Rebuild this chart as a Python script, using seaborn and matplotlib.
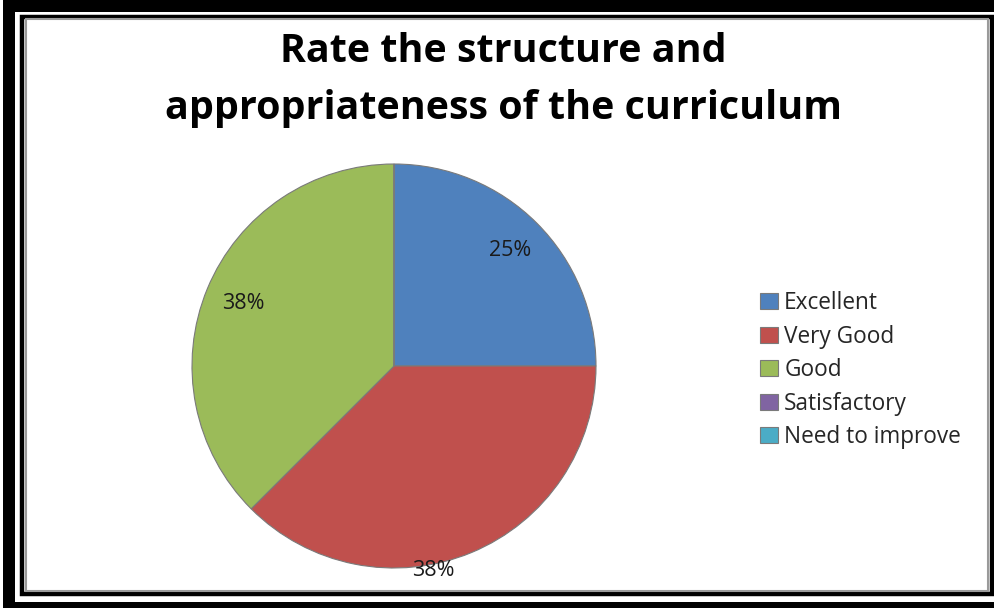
import matplotlib.pyplot as plt
import matplotlib.patches as mpatches
import seaborn as sns
import numpy as np

# data
categories = ['Excellent', 'Very Good', 'Good', 'Satisfactory', 'Need to improve']
shares = [25, 37.5, 37.5, 0, 0]
colors = ['#4F81BD', '#C0504D', '#9BBB59', '#8064A2', '#4BACC6']
title = 'Rate the structure and\nappropriateness of the curriculum'

sns.set_theme(style="white")
plt.rcParams['font.family'] = ['Open Sans', 'DejaVu Sans']

W, H = 994, 608
fig = plt.figure(figsize=(W / 100, H / 100), dpi=100)
fig.patch.set_facecolor('white')


def px(x0, y0, x1, y1):
    # pixel box (top-left origin) -> figure fraction rect
    return [x0 / W, 1 - y1 / H, (x1 - x0) / W, (y1 - y0) / H]


# double frame around the chart
for x0, y0, x1, y1 in [(3, 0, 15, 608), (3, 0, 994, 12), (3, 602, 994, 608)]:
    r = px(x0, y0, x1, y1)
    fig.patches.append(mpatches.Rectangle((r[0], r[1]), r[2], r[3], transform=fig.transFigure,
                                          facecolor='black', edgecolor='none'))
r = px(22, 16.5, 991.5, 594)
fig.patches.append(mpatches.Rectangle((r[0], r[1]), r[2], r[3], transform=fig.transFigure,
                                      facecolor='none', edgecolor='black', linewidth=3.2))
r = px(26, 19, 988, 591)
fig.patches.append(mpatches.Rectangle((r[0], r[1]), r[2], r[3], transform=fig.transFigure,
                                      facecolor='none', edgecolor='#9a9a9a', linewidth=1.5))

fig.text(503 / W, 1 - 80 / H, title, ha='center', va='center', fontsize=28.4,
         fontweight='bold', color='black', linespacing=1.6)

ax = fig.add_axes(px(192, 164, 596, 568))
wedges, texts, autotexts = ax.pie(
    shares, colors=colors, startangle=90, counterclock=False,
    autopct=lambda p: f'{p:.0f}%' if p > 0 else '', pctdistance=0.81,
    wedgeprops=dict(edgecolor='#7a7a7a', linewidth=0.8),
    textprops=dict(fontsize=15.5, color='#1a1a1a'))
# Excel pushed the "Very Good" label down to the rim
ang = np.deg2rad(-79)
autotexts[1].set_position((1.03 * np.cos(ang), 1.03 * np.sin(ang)))
ax.set_xlim(-1, 1)
ax.set_ylim(-1, 1)
ax.set_aspect('equal')

fig.legend(wedges, categories, loc='upper left', bbox_to_anchor=(760 / W, 1 - 291 / H),
           frameon=False, fontsize=16.3, borderpad=0, borderaxespad=0,
           handlelength=0.8, handleheight=0.7, handletextpad=0.27, labelspacing=0.42)

fig.savefig('out.png', dpi=100, facecolor='white')
